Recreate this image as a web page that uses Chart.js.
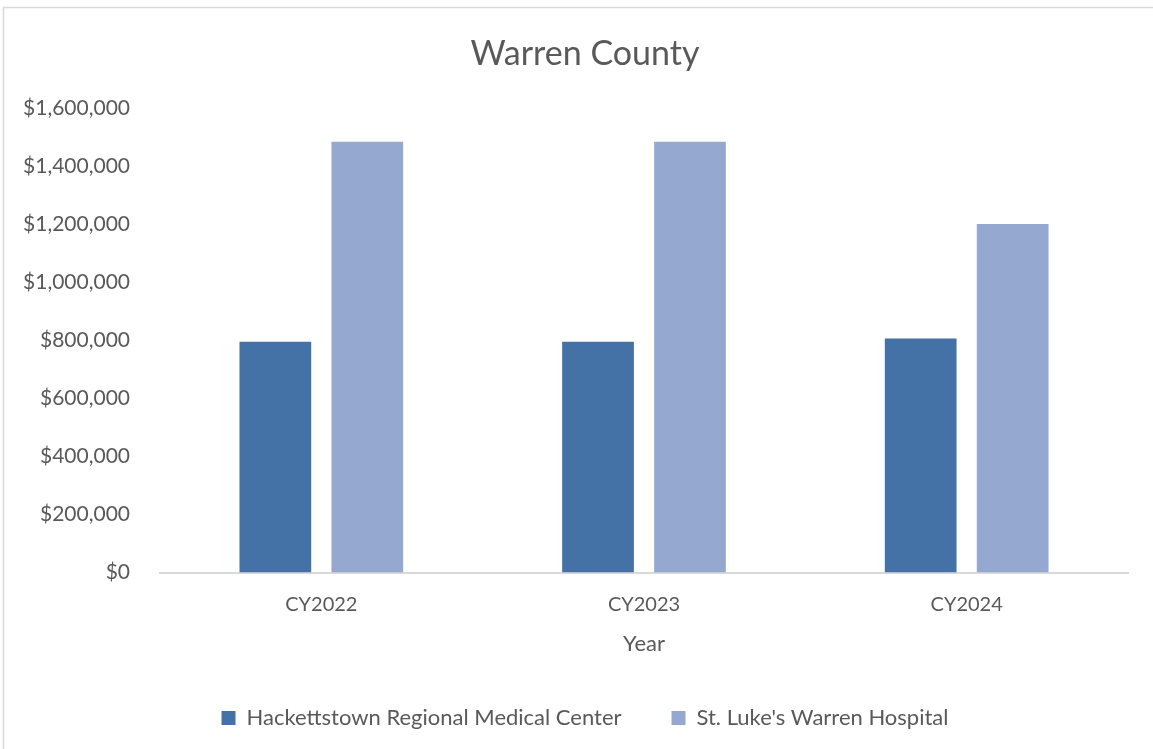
<!DOCTYPE html>
<html>
<head>
<meta charset="utf-8">
<script src="https://cdn.jsdelivr.net/npm/chart.js@4/dist/chart.umd.min.js"></script>
<style>
    body { margin: 0; background: #fff; }
    #wrap { width: 1153px; height: 749px; position: relative; }
</style>
</head>
<body>
<div id="wrap"><canvas id="myChart"></canvas></div>
<script>
const years = ['CY2022', 'CY2023', 'CY2024'];
const hackettstown = [795000, 795000, 806000];
const stLukes = [1483000, 1483000, 1200000];
const seriesNames = ['Hackettstown Regional Medical Center', "St. Luke's Warren Hospital"];

Chart.defaults.font.family = 'Lato, "Open Sans", sans-serif';
Chart.defaults.color = '#595959';

// light grey frame round the chart, like the Excel chart border
const frame = {
    id: 'frame',
    beforeDraw(chart) {
        const ctx = chart.ctx;
        ctx.save();
        ctx.strokeStyle = '#d9d9d9';
        ctx.lineWidth = 1.5;
        ctx.strokeRect(3.5, 7.5, chart.width + 10, chart.height + 10);
        ctx.restore();
    }
};

let ctx = document.getElementById('myChart').getContext('2d');
let chart = new Chart(ctx, {
    type: 'bar',
    data: {
        labels: years,
        datasets: [{
            label: seriesNames[0],
            backgroundColor: '#4472a6',
            data: hackettstown
        }, {
            label: seriesNames[1],
            backgroundColor: '#95a9d0',
            data: stLukes
        }]
    },
    options: {
        responsive: true,
        maintainAspectRatio: false,
        animation: false,
        categoryPercentage: 0.57,
        barPercentage: 0.78,
        layout: { padding: { left: 21, right: 4, top: 14, bottom: 10 } },
        plugins: {
            title: {
                display: true,
                text: 'Warren County',
                font: { size: 34, weight: 'normal' },
                color: '#595959',
                padding: { top: 20, bottom: 33 }
            },
            legend: {
                position: 'bottom',
                labels: {
                    boxWidth: 14,
                    boxHeight: 14,
                    padding: 50,
                    font: { size: 22 }
                }
            },
            tooltip: { enabled: false }
        },
        scales: {
            x: {
                grid: { display: false, drawTicks: false },
                border: { color: '#d9d9d9', width: 2 },
                ticks: { font: { size: 20 }, padding: 20 },
                title: {
                    display: true,
                    text: 'Year',
                    font: { size: 22 },
                    padding: { top: -6, bottom: 0 }
                }
            },
            y: {
                min: 0,
                max: 1600000,
                afterFit(scale) { scale.width = 139; },
                grid: { display: false, drawTicks: false },
                border: { display: false },
                ticks: {
                    stepSize: 200000,
                    padding: 30,
                    font: { size: 21 },
                    callback: (v) => '$' + v.toLocaleString('en-US')
                }
            },
            // empty spacer on the right so the legend sits where Excel puts it
            spacer: {
                type: 'linear',
                position: 'right',
                afterFit(scale) { scale.width = 21; },
                grid: { display: false, drawTicks: false },
                border: { display: false },
                ticks: { display: false }
            }
        }
    },
    plugins: [frame]
});
</script>
</body>
</html>
